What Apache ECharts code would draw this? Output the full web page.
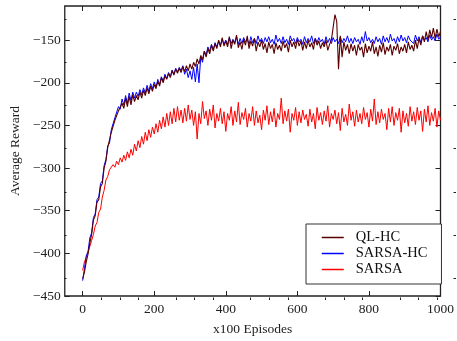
<!DOCTYPE html>
<html>
<head>
<meta charset="utf-8">
<script src="https://cdn.jsdelivr.net/npm/echarts@6/dist/echarts.min.js"></script>
<style>html,body{margin:0;padding:0;background:#fff}#chart{width:457px;height:341px}</style>
</head>
<body>
<div id="chart"></div>
<script>
// x sampling grid (x100 episodes), one sample every 5 units
const episodes = Array.from({length: 201}, (_, i) => i * 5);

const qlHc = [
-430,-422,-410,-401,-388,-378,-361,-356,-340,-337,
-322,-318,-300,-292,-276,-274,-258,-256,-244,-246,
-233,-235,-224,-230,-218,-228,-216,-226,-214,-222,
-215,-220,-211,-218,-209,-215,-206,-213,-204,-210,
-202,-207,-198,-204,-194,-200,-192,-196,-189,-194,
-186,-191,-184,-189,-183,-188,-181,-187,-180,-186,
-178,-184,-176,-181,-172,-178,-168,-173,-163,-170,
-160,-166,-156,-163,-154,-160,-150,-158,-147,-157,
-151,-158,-146,-160,-150,-155,-144,-159,-152,-161,
-149,-156,-145,-160,-151,-157,-148,-163,-152,-158,
-150,-161,-154,-165,-152,-160,-155,-166,-153,-161,
-156,-163,-151,-159,-154,-164,-150,-158,-152,-160,
-149,-157,-151,-162,-152,-160,-150,-158,-153,-161,
-148,-156,-151,-160,-153,-158,-150,-162,-155,-150,
-135,-120,-128,-184,-145,-170,-152,-162,-155,-166,
-154,-163,-156,-168,-155,-162,-158,-170,-154,-165,
-157,-163,-152,-166,-158,-169,-156,-164,-153,-167,
-158,-163,-155,-168,-157,-162,-154,-166,-158,-163,
-155,-165,-152,-161,-156,-163,-150,-160,-148,-156,
-145,-152,-140,-150,-138,-147,-136,-148,-137,-146,
-140
];

const sarsaHc = [
-432,-418,-403,-398,-382,-376,-358,-354,-337,-334,
-318,-315,-297,-290,-274,-271,-255,-253,-241,-243,
-228,-231,-219,-226,-215,-224,-212,-221,-211,-218,
-211,-216,-208,-214,-206,-212,-203,-210,-201,-207,
-199,-205,-196,-202,-193,-198,-190,-195,-188,-193,
-185,-190,-183,-187,-182,-186,-180,-190,-184,-194,
-186,-196,-182,-199,-178,-200,-170,-176,-163,-168,
-158,-163,-155,-161,-153,-158,-151,-156,-149,-155,
-150,-155,-147,-154,-149,-153,-146,-155,-148,-154,
-147,-152,-149,-155,-146,-153,-148,-154,-145,-152,
-148,-154,-147,-152,-146,-153,-149,-155,-144,-152,
-148,-154,-146,-153,-149,-155,-145,-151,-148,-154,
-147,-152,-149,-155,-146,-153,-148,-152,-145,-154,
-148,-153,-147,-152,-149,-155,-146,-153,-148,-154,
-147,-152,-149,-154,-146,-153,-148,-152,-145,-153,
-148,-154,-147,-152,-149,-155,-146,-153,-140,-151,
-147,-153,-149,-154,-146,-152,-148,-155,-145,-152,
-147,-153,-143,-151,-148,-154,-146,-152,-144,-151,
-147,-153,-145,-150,-148,-154,-144,-151,-146,-153,
-145,-150,-147,-152,-144,-150,-146,-151,-143,-149,
-146
];

const sarsa = [
-420,-410,-405,-398,-392,-385,-378,-368,-364,-352,
-348,-334,-326,-314,-310,-302,-300,-296,-299,-292,
-296,-288,-293,-285,-291,-281,-288,-278,-285,-272,
-280,-268,-276,-263,-272,-258,-268,-255,-264,-252,
-260,-248,-258,-244,-254,-240,-252,-236,-250,-234,
-248,-230,-246,-228,-244,-232,-247,-230,-245,-226,
-243,-232,-250,-234,-266,-236,-248,-222,-242,-233,
-250,-231,-244,-226,-253,-236,-245,-230,-248,-234,
-257,-236,-244,-228,-250,-233,-246,-223,-249,-235,
-243,-230,-252,-236,-245,-228,-250,-233,-247,-238,
-255,-232,-244,-227,-249,-234,-246,-230,-252,-236,
-243,-218,-248,-233,-245,-231,-258,-236,-244,-229,
-250,-234,-247,-232,-243,-237,-251,-231,-246,-236,
-254,-229,-244,-235,-249,-233,-245,-227,-252,-236,
-243,-232,-248,-235,-256,-230,-246,-237,-250,-225,
-244,-234,-251,-232,-246,-236,-248,-229,-243,-235,
-252,-231,-245,-219,-249,-234,-247,-231,-243,-236,
-255,-230,-246,-228,-250,-235,-244,-230,-258,-233,
-247,-236,-251,-228,-245,-234,-249,-229,-244,-233,
-257,-231,-246,-227,-250,-235,-245,-230,-252,-233,
-244
];

const seriesNames = ['QL-HC', 'SARSA-HC', 'SARSA'];
const xMajorTicks = [0, 200, 400, 600, 800, 1000];
const xMinorTicks = [50, 100, 150, 250, 300, 350, 450, 500, 550, 650, 700, 750, 850, 900, 950];
const yMajorTicks = [-450, -400, -350, -300, -250, -200, -150];
const yMinorTicks = [-425, -375, -325, -275, -225, -175, -125];

const FONT = '"Liberation Serif", "DejaVu Serif", serif';
const INK = '#222';
const X_MIN = -50, X_MAX = 1000, Y_MIN = -450, Y_MAX = -110;

function pairs(arr) { return episodes.map((x, i) => [x, arr[i]]); }
const minus = v => String(v).replace('-', '\u2212');

const gridBox = {left: 64, right: 1, top: 6, bottom: 41};

function xAx(grid, pos, ticks, len, labels) {
  const a = {
    type: 'value', gridIndex: grid, position: pos, min: X_MIN, max: X_MAX,
    axisLine: {show: false, onZero: false},
    splitLine: {show: false},
    axisTick: {show: true, inside: true, length: len, customValues: ticks, lineStyle: {color: INK, width: 1}},
    axisLabel: labels ? {show: true, customValues: ticks, fontFamily: FONT, fontSize: 13.5, color: INK, margin: 6, formatter: v => String(v)} : {show: false}
  };
  if (labels) {
    a.name = 'x100 Episodes'; a.nameLocation = 'middle'; a.nameGap = 26;
    a.nameTextStyle = {fontFamily: FONT, fontSize: 13.5, color: INK};
  }
  return a;
}
function yAx(grid, pos, ticks, len, labels) {
  const a = {
    type: 'value', gridIndex: grid, position: pos, min: Y_MIN, max: Y_MAX,
    axisLine: {show: false, onZero: false},
    splitLine: {show: false},
    axisTick: {show: true, inside: true, length: len, customValues: ticks, lineStyle: {color: INK, width: 1}},
    axisLabel: labels ? {show: true, customValues: ticks, fontFamily: FONT, fontSize: 13.5, color: INK, margin: 4, formatter: minus} : {show: false}
  };
  if (labels) {
    a.name = 'Average Reward'; a.nameLocation = 'middle'; a.nameGap = 38;
    a.nameTextStyle = {fontFamily: FONT, fontSize: 13.5, color: INK};
  }
  return a;
}

const chart = echarts.init(document.getElementById('chart'), null, {renderer: 'canvas'});
chart.setOption({
  animation: false,
  backgroundColor: '#fff',
  grid: [
    Object.assign({show: true, borderColor: INK, borderWidth: 1.3, backgroundColor: 'transparent'}, gridBox),
    Object.assign({show: false}, gridBox)
  ],
  xAxis: [
    xAx(0, 'bottom', xMajorTicks, 5, true),
    xAx(0, 'top', xMajorTicks, 5, false),
    xAx(1, 'bottom', xMinorTicks, 2.5, false),
    xAx(1, 'top', xMinorTicks, 2.5, false)
  ],
  yAxis: [
    yAx(0, 'left', yMajorTicks, 5, true),
    yAx(0, 'right', yMajorTicks, 5, false),
    yAx(1, 'left', yMinorTicks, 2.5, false),
    yAx(1, 'right', yMinorTicks, 2.5, false)
  ],
  legend: {
    data: seriesNames,
    orient: 'vertical', left: 306, top: 224,
    padding: [6, 14, 7, 15], itemGap: 1, itemWidth: 22, itemHeight: 14,
    borderColor: '#333', borderWidth: 1, borderRadius: 0, backgroundColor: '#fff',
    itemStyle: {opacity: 0},
    lineStyle: {width: 1.5},
    textStyle: {fontFamily: FONT, fontSize: 14.5, color: '#111', padding: [0, 0, 0, 7]}
  },
  series: [
    {name: seriesNames[2], type: 'line', xAxisIndex: 0, yAxisIndex: 0, data: pairs(sarsa), showSymbol: false, symbol: 'none', lineStyle: {color: '#ff0000', width: 1}, itemStyle: {color: '#ff0000'}},
    {name: seriesNames[1], type: 'line', xAxisIndex: 0, yAxisIndex: 0, data: pairs(sarsaHc), showSymbol: false, symbol: 'none', lineStyle: {color: '#0000ff', width: 1}, itemStyle: {color: '#0000ff'}},
    {name: seriesNames[0], type: 'line', xAxisIndex: 0, yAxisIndex: 0, data: pairs(qlHc), showSymbol: false, symbol: 'none', lineStyle: {color: '#5a0000', width: 1.1}, itemStyle: {color: '#5a0000'}}
  ]
});
</script>
</body>
</html>
